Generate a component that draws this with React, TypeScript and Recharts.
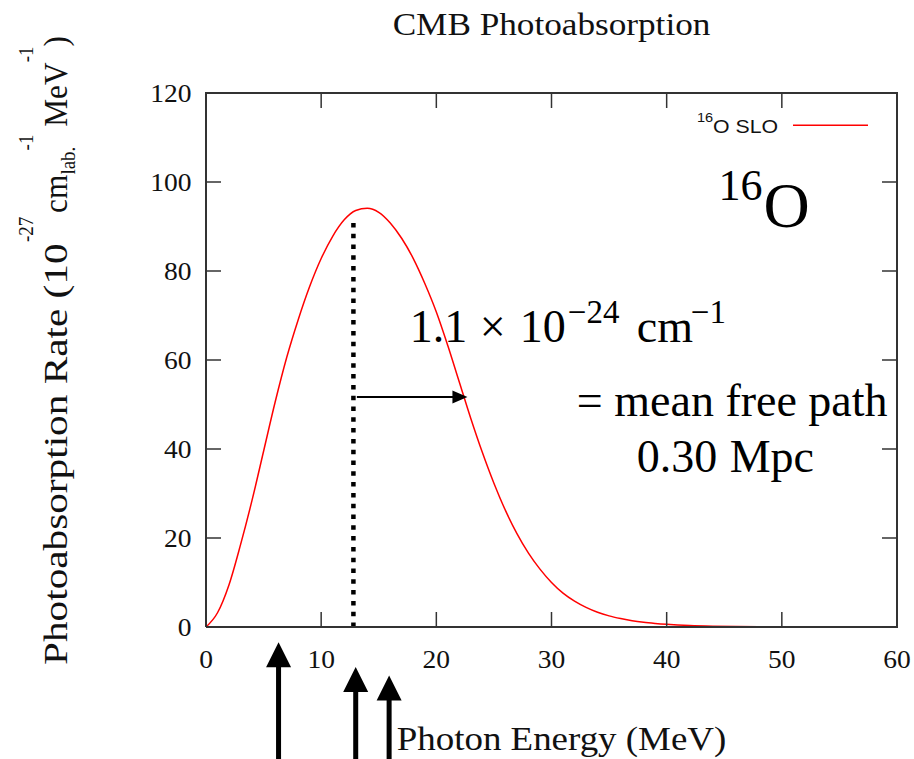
import { LineChart, Line, XAxis, YAxis, ReferenceLine, ReferenceDot, Legend } from 'recharts';

// photon energy (MeV) and CMB photoabsorption rate (1e-27 cm^-1 MeV^-1)
const energy = [
  0, 1, 2, 3, 4, 5, 6, 7, 8, 9, 10, 11, 12, 13, 14, 15, 16, 17, 18, 19, 20, 21, 22, 23, 24, 25,
  26, 27, 28, 29, 30, 31, 32, 33, 34, 35, 36, 37, 38, 39, 40, 42, 44, 46, 48, 50, 55, 60,
];
const rate = [
  0, 3.2, 9.5, 18.5, 28.5, 39.5, 50.5, 60.5, 69, 76.5, 82.8, 87.8, 91.5, 93.6, 94.1, 93.2, 90.8,
  87.3, 82.8, 77.2, 70.8, 63.2, 55, 46.8, 39.2, 32.3, 26.2, 21, 16.6, 13, 10, 7.6, 5.8, 4.4, 3.3,
  2.5, 1.9, 1.4, 1.05, 0.8, 0.6, 0.32, 0.17, 0.09, 0.05, 0.025, 0.006, 0,
];
const xTicks = [0, 10, 20, 30, 40, 50, 60];
const yTicks = [0, 20, 40, 60, 80, 100, 120];
const xMax = 60;
const yMax = 120;

// annotations (data units)
const peakLineE = 12.8;
const peakLineTop = 92;
const mfpArrow = [13.1, 22.7, 51.7]; // from E, to E, at rate
const upArrowE = [6.3, 13.0, 15.9];
const upArrowTip = [-3.4, -9.0, -10.9];

const data = energy.map((e, i) => ({ e, r: rate[i] }));

const SERIF = '"Liberation Serif", "Times New Roman", serif';
const SANS = '"Liberation Sans", Arial, sans-serif';
const SX = 1.1;
const AXIS = '#333';
const INK = '#111';
const TICK = 15;

// chart box
const W = 914;
const H = 759;
const M = { top: 93, right: 17, bottom: 82, left: 0 };
const Y_AXIS_W = 206;
const X_AXIS_H = 50;
const PLOT_W = W - M.left - M.right - Y_AXIS_W;
const PLOT_H = H - M.top - M.bottom - X_AXIS_H;

// bottom ticks also carry the matching inward tick on the top edge, and 60 closes the frame on the right
const BottomTick = ({ x, y, payload }: any) => (
  <g>
    <line x1={x} y1={y} x2={x} y2={y - TICK} stroke={AXIS} strokeWidth={1.5} />
    <line x1={x} y1={y - PLOT_H} x2={x} y2={y - PLOT_H + TICK} stroke={AXIS} strokeWidth={1.5} />
    {payload.value === xMax && (
      <line x1={x} y1={y + 1} x2={x} y2={y - PLOT_H - 1} stroke={AXIS} strokeWidth={2} />
    )}
    <text
      transform={`translate(${x},${y + 40.5}) scale(${SX},1)`}
      textAnchor="middle"
      fontFamily={SERIF}
      fontSize={25}
      fill={INK}
    >
      {payload.value}
    </text>
  </g>
);

// left ticks carry the right-edge tick, and 120 closes the frame on top
const LeftTick = ({ x, y, payload }: any) => (
  <g>
    <line x1={x} y1={y} x2={x + TICK} y2={y} stroke={AXIS} strokeWidth={1.5} />
    <line x1={x + PLOT_W} y1={y} x2={x + PLOT_W - TICK} y2={y} stroke={AXIS} strokeWidth={1.5} />
    {payload.value === yMax && (
      <line x1={x - 1} y1={y} x2={x + PLOT_W + 1} y2={y} stroke={AXIS} strokeWidth={2} />
    )}
    <text
      transform={`translate(${x - 14.5},${y + 8.8}) scale(${SX},1)`}
      textAnchor="end"
      fontFamily={SERIF}
      fontSize={25}
      fill={INK}
    >
      {payload.value}
    </text>
  </g>
);

const TitleText = ({ cx, cy }: any) => (
  <text
    transform={`translate(${cx},${cy - 58}) scale(1.1,1)`}
    textAnchor="middle"
    fontFamily={SERIF}
    fontSize={32}
    fill={INK}
  >
    CMB Photoabsorption
  </text>
);

const XLabel = (props: any) => {
  const vb = props.viewBox ?? { x: 206, y: 627, width: 691, height: 50 };
  return (
    <text
      transform={`translate(${vb.x + vb.width / 2 + 10},${vb.y + 123}) scale(1.12,1)`}
      textAnchor="middle"
      fontFamily={SERIF}
      fontSize={33}
      fill={INK}
    >
      Photon Energy (MeV)
    </text>
  );
};

const YLabel = (props: any) => {
  const vb = props.viewBox ?? { x: 0, y: 93, width: 206, height: 534 };
  const bx = vb.x + 67;
  const bottom = vb.y + 572;
  const split = vb.y + 149;
  return (
    <g fontFamily={SERIF} fontSize={33} fill={INK}>
      <text transform={`translate(${bx},${bottom}) rotate(-90) scale(1.25,1)`} textAnchor="start">
        Photoabsorption Rate (10
      </text>
      <text transform={`translate(${bx},${split}) rotate(-90) scale(0.95,1)`} textAnchor="start">
        <tspan fontSize={20} dy={-34}>-27</tspan>
        <tspan dy={34} dx={4}>cm</tspan>
        <tspan fontSize={20} dy={8}>lab.</tspan>
        <tspan fontSize={20} dy={-42} dx={-4}>-1</tspan>
        <tspan dy={34}> MeV</tspan>
        <tspan fontSize={20} dy={-34}>-1</tspan>
        <tspan dy={34}>)</tspan>
      </text>
    </g>
  );
};

const renderLegend = () => (
  <svg width={200} height={40} style={{ display: 'block' }}>
    <text transform={`translate(17,21.7) scale(1.12,1)`} fontFamily={SANS} fontSize={13} fill={INK}>
      16
    </text>
    <text transform={`translate(33,33.3) scale(1.12,1)`} fontFamily={SANS} fontSize={19} fill={INK}>
      O SLO
    </text>
    <line x1={113} y1={25.3} x2={188} y2={25.3} stroke="#ff0000" strokeWidth={1.5} />
  </svg>
);

const UpArrow = ({ cx, cy }: any) => (
  <g>
    <rect x={cx - 2.5} y={cy + 20} width={5} height={200} fill="#000" />
    <path d={`M${cx},${cy} L${cx + 12.5},${cy + 25} L${cx - 12.5},${cy + 25} Z`} fill="#000" />
  </g>
);

const RightHead = ({ cx, cy }: any) => (
  <path d={`M${cx},${cy} L${cx - 15},${cy - 6.5} L${cx - 15},${cy + 6.5} Z`} fill="#000" />
);

const IsotopeText = ({ cx, cy }: any) => (
  <text fontFamily={SERIF} fill="#000">
    <tspan x={cx} y={cy - 26.5} fontSize={44}>16</tspan>
    <tspan x={cx + 45} y={cy} fontSize={64}>O</tspan>
  </text>
);

const RateText = ({ cx, cy }: any) => (
  <text fontFamily={SERIF} fill="#000" fontSize={46}>
    <tspan x={cx} y={cy}>1.1</tspan>
    <tspan x={cx + 70} y={cy}>×</tspan>
    <tspan x={cx + 110} y={cy}>10</tspan>
    <tspan x={cx + 158} y={cy - 19} fontSize={33}>−24</tspan>
    <tspan x={cx + 227} y={cy}>cm</tspan>
    <tspan x={cx + 281} y={cy - 19} fontSize={33}>−1</tspan>
  </text>
);

const MfpText = ({ cx, cy }: any) => (
  <text x={cx} y={cy} fontFamily={SERIF} fill="#000" fontSize={46}>
    = mean free path
  </text>
);

const MpcText = ({ cx, cy }: any) => (
  <text fontFamily={SERIF} fill="#000" fontSize={46}>
    <tspan x={cx} y={cy}>0.30</tspan>
    <tspan x={cx + 93} y={cy}>Mpc</tspan>
  </text>
);

export default function App() {
  return (
    <div style={{ position: 'absolute', left: 0, top: 0, background: '#fff' }}>
      <LineChart width={W} height={H} data={data} margin={M}>
        <XAxis
          dataKey="e"
          type="number"
          domain={[0, xMax]}
          ticks={xTicks}
          interval={0}
          height={X_AXIS_H}
          tickSize={0}
          tickMargin={0}
          tickLine={false}
          axisLine={{ stroke: AXIS, strokeWidth: 2 }}
          tick={<BottomTick />}
          label={XLabel}
        />
        <YAxis
          type="number"
          domain={[0, yMax]}
          ticks={yTicks}
          interval={0}
          width={Y_AXIS_W}
          tickSize={0}
          tickMargin={0}
          tickLine={false}
          axisLine={{ stroke: AXIS, strokeWidth: 2 }}
          tick={<LeftTick />}
          label={YLabel}
        />
        <Legend
          layout="horizontal"
          align="center"
          verticalAlign="middle"
          wrapperStyle={{ left: 680, top: 100, width: 200, height: 40 }}
          content={renderLegend}
        />

        <ReferenceDot x={xMax / 2} y={yMax} r={0} ifOverflow="visible" shape={TitleText} />

        {/* dotted marker at the peak */}
        <ReferenceLine
          segment={[
            { x: peakLineE, y: 0 },
            { x: peakLineE, y: peakLineTop },
          ]}
          stroke="#000"
          strokeWidth={4.5}
          strokeDasharray="4.5 6.3"
        />

        {/* mean free path arrow */}
        <ReferenceLine
          segment={[
            { x: mfpArrow[0], y: mfpArrow[2] },
            { x: mfpArrow[1] - 1, y: mfpArrow[2] },
          ]}
          stroke="#000"
          strokeWidth={2}
        />
        <ReferenceDot x={mfpArrow[1]} y={mfpArrow[2]} r={0} shape={RightHead} />

        {upArrowE.map((e, i) => (
          <ReferenceDot key={e} x={e} y={upArrowTip[i]} r={0} ifOverflow="visible" shape={UpArrow} />
        ))}

        <ReferenceDot x={44.5} y={90} r={0} shape={IsotopeText} />
        <ReferenceDot x={17.7} y={64} r={0} shape={RateText} />
        <ReferenceDot x={32.2} y={47.4} r={0} ifOverflow="visible" shape={MfpText} />
        <ReferenceDot x={37.4} y={34.8} r={0} shape={MpcText} />

        <Line
          type="monotone"
          dataKey="r"
          name="16O SLO"
          stroke="#ff0000"
          strokeWidth={1.5}
          dot={false}
          activeDot={false}
          isAnimationActive={false}
        />
      </LineChart>
    </div>
  );
}
